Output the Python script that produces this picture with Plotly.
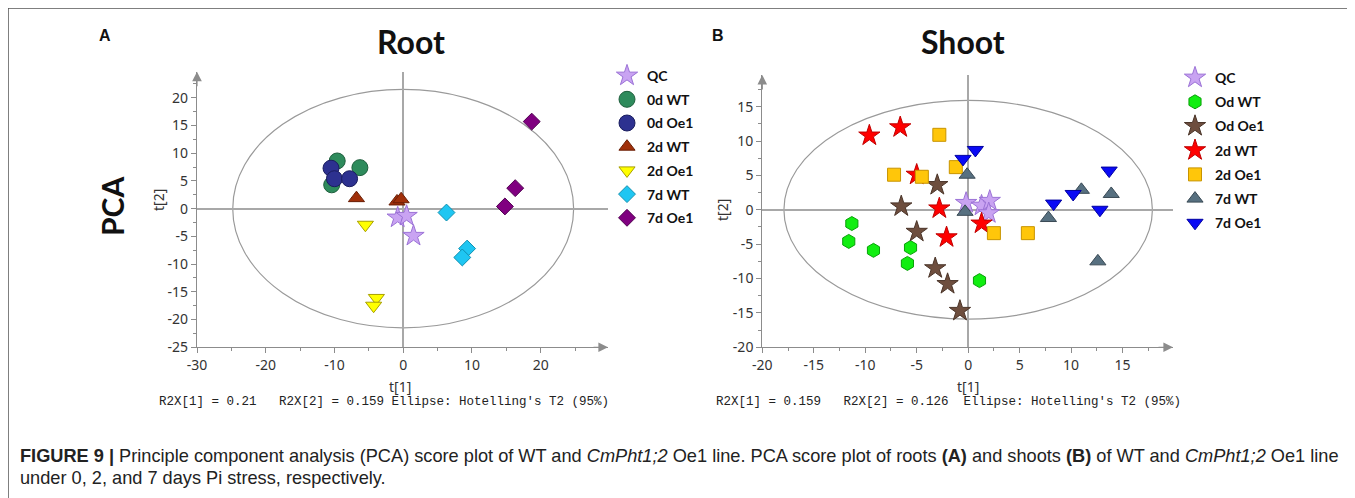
import plotly.graph_objects as go

W, H = 1355, 498
# the page places the figure 8 px right/down (body margin); compensate
OFF = 8

# ---------------- data ----------------
root_groups = ["QC", "0d WT", "0d Oe1", "2d WT", "2d Oe1", "7d WT", "7d Oe1"]
root_x = {
    "QC": [-0.8, 0.5, 1.5],
    "0d WT": [-9.6, -6.3, -10.4],
    "0d Oe1": [-10.5, -10.0, -7.8],
    "2d WT": [-6.8, -0.9, -0.3],
    "2d Oe1": [-5.5, -3.9, -4.3],
    "7d WT": [6.3, 9.3, 8.6],
    "7d Oe1": [18.7, 16.3, 14.8],
}
root_y = {
    "QC": [-1.6, -1.3, -4.9],
    "0d WT": [8.6, 7.4, 4.3],
    "0d Oe1": [7.3, 5.4, 5.4],
    "2d WT": [1.9, 1.3, 1.7],
    "2d Oe1": [-2.9, -16.1, -17.5],
    "7d WT": [-0.7, -7.2, -8.8],
    "7d Oe1": [15.7, 3.7, 0.4],
}

shoot_groups = ["QC", "Od WT", "Od Oe1", "2d WT", "2d Oe1", "7d WT", "7d Oe1"]
shoot_x = {
    "QC": [-0.2, 1.3, 2.1, 2.0],
    "Od WT": [-11.3, -11.6, -9.2, -5.6, -5.9, 1.1],
    "Od Oe1": [-3.0, -6.5, -5.0, -3.2, -2.0, -0.8],
    "2d WT": [-9.6, -6.6, -5.0, -2.8, -2.1, 1.3],
    "2d Oe1": [-2.8, -7.2, -4.5, -1.2, 2.5, 5.8],
    "7d WT": [-0.1, -0.3, 7.8, 11.0, 13.9, 12.6],
    "7d Oe1": [-0.5, 0.7, 8.3, 10.2, 12.8, 13.7],
}
shoot_y = {
    "QC": [1.0, 0.6, 1.3, -0.5],
    "Od WT": [-2.0, -4.6, -5.9, -5.5, -7.8, -10.3],
    "Od Oe1": [3.6, 0.5, -3.2, -8.5, -10.8, -14.7],
    "2d WT": [10.8, 12.0, 5.1, 0.2, -4.0, -2.0],
    "2d Oe1": [10.9, 5.1, 4.8, 6.2, -3.4, -3.4],
    "7d WT": [5.1, -0.3, -1.2, 2.9, 2.3, -7.5],
    "7d Oe1": [7.4, 8.7, 0.9, 2.3, 0.0, 5.7],
}

root_xticks = [-30, -20, -10, 0, 10, 20]
root_yticks = [20, 15, 10, 5, 0, -5, -10, -15, -20, -25]
shoot_xticks = [-20, -15, -10, -5, 0, 5, 10, 15]
shoot_yticks = [15, 10, 5, 0, -5, -10, -15, -20]

root_ellipse = (24.8, 21.5)   # Hotelling's T2 semi-axes
shoot_ellipse = (17.9, 15.9)

root_r2x = "R2X[1] = 0.21   R2X[2] = 0.159 Ellipse: Hotelling's T2 (95%)"
shoot_r2x = "R2X[1] = 0.159   R2X[2] = 0.126  Ellipse: Hotelling's T2 (95%)"

# ---------------- styles ----------------
root_style = {
    "QC": ("star", 16, "#C9A3F2", "#9B72D6"),
    "0d WT": ("circle", 16, "#2E8B5C", "#1E5E3C"),
    "0d Oe1": ("circle", 16, "#2D3190", "#1A1D5E"),
    "2d WT": ("triangle-up", 14, "#A0300A", "#6A1E05"),
    "2d Oe1": ("triangle-down", 14, "#FFFF00", "#A8A000"),
    "7d WT": ("diamond", 13, "#1FC6F2", "#1090B0"),
    "7d Oe1": ("diamond", 13, "#800080", "#500050"),
}
shoot_style = {
    "QC": ("star", 16, "#C9A3F2", "#9B72D6"),
    "Od WT": ("hexagon", 14, "#11EE11", "#0AA00A"),
    "Od Oe1": ("star", 16, "#6E4E3E", "#4A3428"),
    "2d WT": ("star", 16, "#FF0000", "#C00000"),
    "2d Oe1": ("square", 13, "#FFC60A", "#C89400"),
    "7d WT": ("triangle-up", 14, "#577080", "#3A4A55"),
    "7d Oe1": ("triangle-down", 14, "#0A0AF5", "#0000A0"),
}

def px2x(p):
    return (p - OFF) / W

def px2y(p):
    return 1 - (p - OFF) / H

fig = go.Figure()

for g in root_groups:
    sym, sz, fc, lc = root_style[g]
    fig.add_trace(go.Scatter(
        x=root_x[g], y=root_y[g], mode="markers", name=g,
        xaxis="x", yaxis="y", legend="legend", legendgroup="r" + g,
        marker=dict(symbol=sym, size=sz, color=fc, line=dict(color=lc, width=1)),
    ))
for g in shoot_groups:
    sym, sz, fc, lc = shoot_style[g]
    fig.add_trace(go.Scatter(
        x=shoot_x[g], y=shoot_y[g], mode="markers", name=g,
        xaxis="x2", yaxis="y2", legend="legend2", legendgroup="s" + g,
        marker=dict(symbol=sym, size=sz, color=fc, line=dict(color=lc, width=1)),
    ))

axis_gray = "#8c8c8c"
tickfont = dict(family="Noto Sans, DejaVu Sans", size=14, color="#333333")

def axis(domain, rng, ticks, minor_dtick, anchor):
    return dict(
        domain=domain, range=rng, anchor=anchor, automargin=False,
        tickmode="array", tickvals=ticks, ticktext=[str(t) for t in ticks],
        showgrid=False, zeroline=True, zerolinecolor="#a8a8a8", zerolinewidth=1.5,
        showline=True, linecolor=axis_gray, linewidth=1.2,
        ticks="outside", ticklen=5, tickcolor=axis_gray, tickwidth=1,
        minor=dict(dtick=minor_dtick, tick0=0, ticks="outside", ticklen=3,
                   tickcolor=axis_gray, showgrid=False),
        tickfont=tickfont, fixedrange=True,
    )

# pixel geometry of the two panels
L_x0, L_x1, L_y0, L_y1 = 197, 608, 347.3, 71.7
R_x0, R_x1, R_y0, R_y1 = 762.3, 1173, 347.3, 75

legend_font = dict(family="Lato, Open Sans", size=14, color="#111111", weight="bold")

fig.update_layout(
    template="none",
    width=W, height=H, autosize=False,
    margin=dict(l=0, r=0, t=0, b=0, pad=0, autoexpand=False),
    paper_bgcolor="white", plot_bgcolor="rgba(0,0,0,0)",
    xaxis=axis([px2x(L_x0), px2x(L_x1)], [-30, 29.8], root_xticks, 5, "y"),
    yaxis=axis([px2y(L_y0), px2y(L_y1)], [-25, 24.7], root_yticks, 2.5, "x"),
    xaxis2=axis([px2x(R_x0), px2x(R_x1)], [-20, 19.9], shoot_xticks, 2.5, "y2"),
    yaxis2=axis([px2y(R_y0), px2y(R_y1)], [-20, 19.6], shoot_yticks, 2.5, "x2"),
    legend=dict(x=px2x(607), y=px2y(60), xanchor="left", yanchor="top",
                font=legend_font, tracegroupgap=2.5, traceorder="grouped",
                bgcolor="rgba(0,0,0,0)", itemclick=False),
    legend2=dict(x=px2x(1175), y=px2y(62), xanchor="left", yanchor="top",
                 font=legend_font, tracegroupgap=3, traceorder="grouped",
                 bgcolor="rgba(0,0,0,0)", itemclick=False),
    showlegend=True,
)

# ellipses
shapes = []
for (a, b), xr, yr in [(root_ellipse, "x", "y"), (shoot_ellipse, "x2", "y2")]:
    shapes.append(dict(type="circle", xref=xr, yref=yr, x0=-a, x1=a, y0=-b, y1=b,
                       line=dict(color="#9a9a9a", width=1.2), layer="below"))
# outer frame
shapes.append(dict(type="rect", xref="paper", yref="paper",
                   x0=px2x(8), x1=px2x(1362), y0=px2y(506), y1=px2y(8),
                   line=dict(color="#555555", width=1.5)))
fig.update_layout(shapes=shapes)

ann = []
# axis arrows
for xr, yr, xe, ye, yb, xb in [("x", "y", 29.8, 24.7, -25, -30), ("x2", "y2", 19.9, 19.6, -20, -20)]:
    ann.append(dict(xref=xr, yref=yr, x=xe, y=yb, ax=-16, ay=0, showarrow=True,
                    arrowhead=2, arrowsize=1.6, arrowwidth=1.2, arrowcolor=axis_gray, text=""))
    ann.append(dict(xref=xr, yref=yr, x=xb, y=ye, ax=0, ay=16, showarrow=True,
                    arrowhead=2, arrowsize=1.6, arrowwidth=1.2, arrowcolor=axis_gray, text=""))

def text(x, y, t, size, family="Liberation Sans", bold=False, angle=0, color="#111111", xanchor="center"):
    ann.append(dict(xref="paper", yref="paper", x=px2x(x), y=px2y(y), text=t,
                    showarrow=False, textangle=angle, xanchor=xanchor, yanchor="middle",
                    font=dict(family=family, size=size, color=color,
                              weight="bold" if bold else "normal")))

text(105, 35, "A", 16, "Liberation Sans", True)
text(718, 35, "B", 16, "Liberation Sans", True)
text(411, 41, "Root", 32, "Lato", True)
text(963, 41, "Shoot", 32, "Lato", True)
text(112, 207, "PCA", 30, "Lato", True, angle=-90)
text(158, 200, "t[2]", 14, "Noto Sans", False, angle=-90, color="#333333")
text(723, 210, "t[2]", 14, "Noto Sans", False, angle=-90, color="#333333")
text(400, 386, "t[1]", 14, "Noto Sans", False, color="#333333")
text(968, 386, "t[1]", 14, "Noto Sans", False, color="#333333")
text(157, 402, root_r2x.replace(" ", "&nbsp;"), 12.5, "Liberation Mono", False, color="#222222", xanchor="left")
text(714, 402, shoot_r2x.replace(" ", "&nbsp;"), 12.5, "Liberation Mono", False, color="#222222", xanchor="left")

cap1 = ("<b>FIGURE 9 |</b> Principle component analysis (PCA) score plot of WT and <i>CmPht1;2</i> Oe1 line. "
        "PCA score plot of roots <b>(A)</b> and shoots <b>(B)</b> of WT and <i>CmPht1;2</i> Oe1 line")
cap2 = "under 0, 2, and 7 days Pi stress, respectively."
text(18, 456, cap1, 18.2, "Liberation Sans", False, color="#222222", xanchor="left")
text(18, 478, cap2, 18.2, "Liberation Sans", False, color="#222222", xanchor="left")

fig.update_layout(annotations=ann)
fig.write_html("out.html")
